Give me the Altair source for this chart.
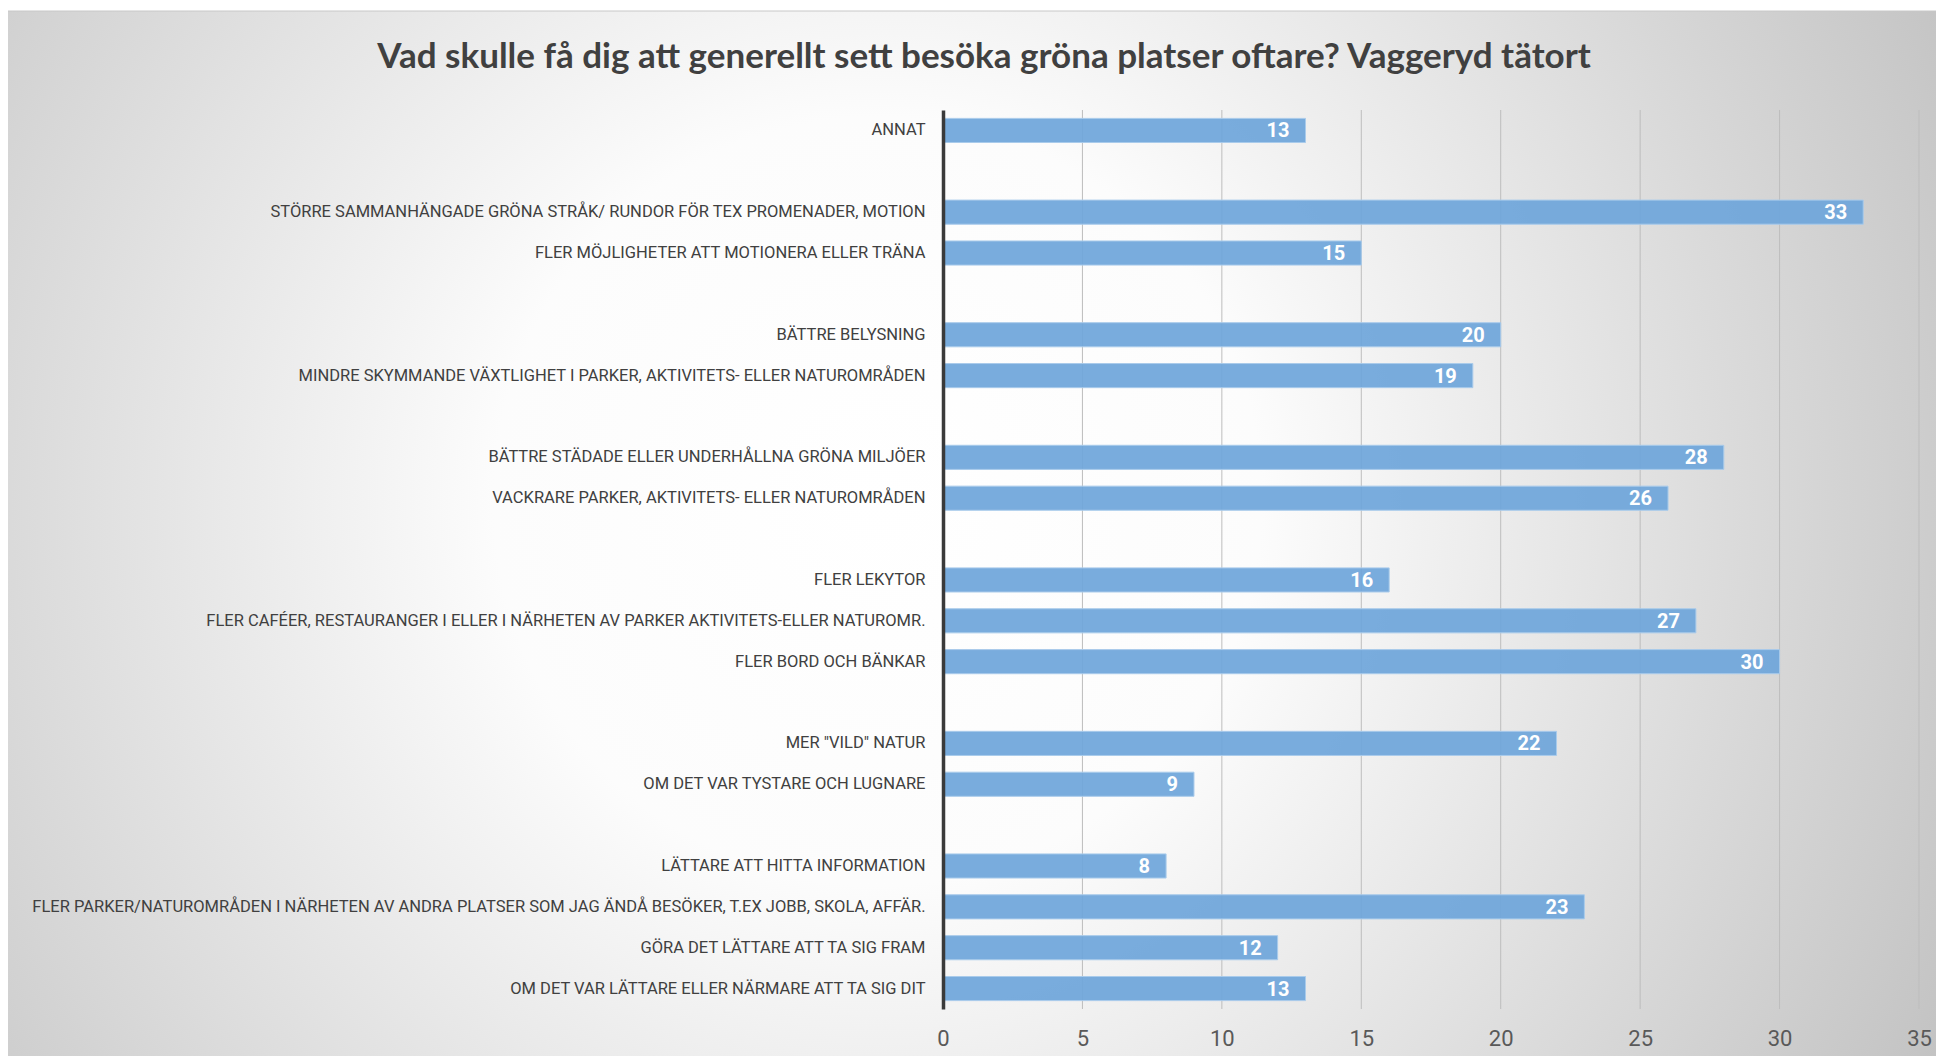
import altair as alt
import pandas as pd

title_text = "Vad skulle få dig att generellt sett besöka gröna platser oftare? Vaggeryd tätort"

# Slot order top to bottom; blank entries are the gaps between groups
categories = [
    "ANNAT ",
    " ",
    "STÖRRE SAMMANHÄNGADE GRÖNA STRÅK/ RUNDOR FÖR TEX PROMENADER, MOTION",
    "FLER MÖJLIGHETER ATT MOTIONERA ELLER TRÄNA",
    "  ",
    "BÄTTRE BELYSNING",
    "MINDRE SKYMMANDE VÄXTLIGHET I PARKER, AKTIVITETS- ELLER NATUROMRÅDEN",
    "   ",
    "BÄTTRE STÄDADE ELLER UNDERHÅLLNA GRÖNA MILJÖER",
    "VACKRARE PARKER, AKTIVITETS- ELLER NATUROMRÅDEN",
    "    ",
    "FLER LEKYTOR",
    "FLER CAFÉER,  RESTAURANGER I ELLER I NÄRHETEN AV PARKER AKTIVITETS-ELLER NATUROMR.",
    "FLER BORD OCH BÄNKAR",
    "     ",
    "MER \"VILD\" NATUR",
    "OM DET VAR TYSTARE OCH LUGNARE",
    "      ",
    "LÄTTARE ATT HITTA INFORMATION",
    "FLER PARKER/NATUROMRÅDEN I NÄRHETEN AV ANDRA PLATSER SOM JAG ÄNDÅ BESÖKER, T.EX JOBB, SKOLA, AFFÄR. ",
    "GÖRA DET LÄTTARE ATT TA SIG FRAM",
    "OM DET VAR LÄTTARE ELLER NÄRMARE ATT TA SIG DIT",
]
values = [13, None, 33, 15, None, 20, 19, None, 28, 26, None, 16, 27, 30, None, 22, 9, None, 8, 23, 12, 13]
x_ticks = [0, 5, 10, 15, 20, 25, 30, 35]

rows = [{"kategori": c, "antal": v} for c, v in zip(categories, values) if v is not None]
df = pd.DataFrame(rows)
grid_df = pd.DataFrame({"t": x_ticks[1:]})

W, H = 976, 899
PAD_L, PAD_T, PAD_R, PAD_B = 935, 102, 17, 47

label_font = "Roboto"

x_scale = alt.Scale(domain=[0, 35], nice=False)
y_scale = alt.Scale(domain=categories, paddingInner=0.41, paddingOuter=0.205)

bg = alt.Chart(alt.Data(values=[{}])).mark_rect(
    fill={
        "gradient": "radial",
        "x1": 0.45, "y1": 0.48, "r1": 0.0,
        "x2": 0.45, "y2": 0.48, "r2": 0.66,
        "stops": [
            {"offset": 0.0, "color": "#ffffff"},
            {"offset": 0.3, "color": "#fcfcfc"},
            {"offset": 1.0, "color": "#bdbdbd"},
        ],
    },
    stroke="#c8c8c8",
    strokeWidth=1,
).encode(
    x=alt.value(5 - 8 - PAD_L),
    x2=alt.value(1944 - 8 - PAD_L),
    y=alt.value(11 - 8 - PAD_T),
    y2=alt.value(1064 - 8 - PAD_T + 5),
)

title = alt.Chart(alt.Data(values=[{}])).mark_text(
    text=title_text,
    font="Lato",
    fontSize=35,
    fontWeight="bold",
    color="#404040",
    align="center",
    baseline="middle",
).encode(
    x=alt.value(984 - 8 - PAD_L),
    y=alt.value(57 - 8 - PAD_T),
)

grid = alt.Chart(grid_df).mark_rule(color="#bdbdbd", strokeWidth=1).encode(
    x=alt.X("t:Q", scale=x_scale),
    y=alt.value(0),
    y2=alt.value(H),
)

bars = alt.Chart(df).mark_bar(
    color="#6fa6da", stroke="#a9cbeb", strokeWidth=1, fillOpacity=0.93
).encode(
    x=alt.X(
        "antal:Q",
        scale=x_scale,
        axis=alt.Axis(
            values=x_ticks, grid=False, domain=False, ticks=False,
            labelFont=label_font, labelFontSize=22, labelColor="#595959",
            labelPadding=19, labelFlush=False, title=None, zindex=1,
        ),
    ),
    y=alt.Y(
        "kategori:N",
        scale=y_scale,
        sort=categories,
        axis=alt.Axis(
            ticks=False, domain=True, domainColor="#3a3a3a", domainWidth=3.5,
            labelFont=label_font, labelFontSize=16.5, labelColor="#404040",
            labelPadding=18, labelLimit=1000, title=None, zindex=1,
        ),
    ),
)

text = alt.Chart(df).mark_text(
    align="right", baseline="middle", dx=-16, dy=1,
    font=label_font, fontSize=20, fontWeight="bold", color="#ffffff",
).encode(
    x=alt.X("antal:Q", scale=x_scale),
    y=alt.Y("kategori:N", scale=y_scale, sort=categories),
    text=alt.Text("antal:Q"),
)

chart = alt.layer(bg, title, grid, bars, text).properties(
    width=W,
    height=H,
    padding={"left": PAD_L, "top": PAD_T, "right": PAD_R, "bottom": PAD_B},
    autosize=alt.AutoSizeParams(type="none"),
).configure_view(stroke=None).configure(background="#ffffff")

chart.save("out.html", embed_options={"renderer": "svg", "actions": False})
